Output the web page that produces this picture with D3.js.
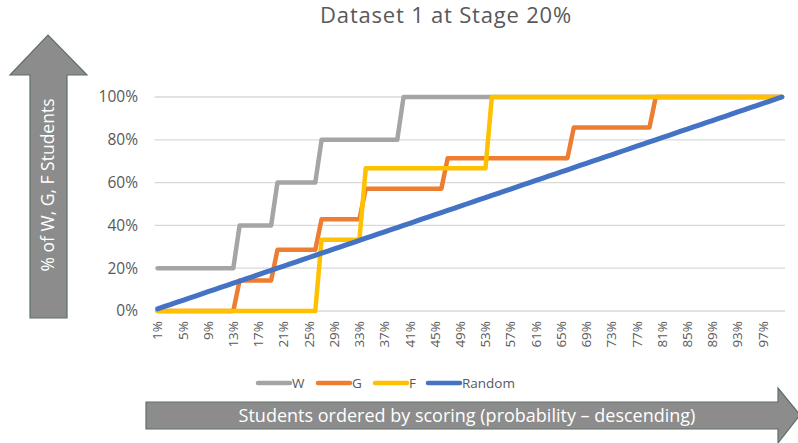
<!DOCTYPE html>
<html><head><meta charset="utf-8">
<script src="https://cdn.jsdelivr.net/npm/d3@7"></script>
<style>body{margin:0;background:#fff}svg{display:block;font-family:"Open Sans",Lato,sans-serif}</style>
</head><body><svg id="c" width="798" height="443"></svg>
<script>
const title = "Dataset 1 at Stage 20%";
const categories = ["1%","2%","3%","4%","5%","6%","7%","8%","9%","10%","11%","12%","13%","14%","15%","16%","17%","18%","19%","20%","21%","22%","23%","24%","25%","26%","27%","28%","29%","30%","31%","32%","33%","34%","35%","36%","37%","38%","39%","40%","41%","42%","43%","44%","45%","46%","47%","48%","49%","50%","51%","52%","53%","54%","55%","56%","57%","58%","59%","60%","61%","62%","63%","64%","65%","66%","67%","68%","69%","70%","71%","72%","73%","74%","75%","76%","77%","78%","79%","80%","81%","82%","83%","84%","85%","86%","87%","88%","89%","90%","91%","92%","93%","94%","95%","96%","97%","98%","99%","100%"];
const W = [20,20,20,20,20,20,20,20,20,20,20,20,20,40,40,40,40,40,40,60,60,60,60,60,60,60,80,80,80,80,80,80,80,80,80,80,80,80,80,100,
100,100,100,100,100,100,100,100,100,100,100,100,100,100,100,100,100,100,100,100,100,100,100,100,100,100,100,100,100,100,
100,100,100,100,100,100,100,100,100,100,100,100,100,100,100,100,100,100,100,100,100,100,100,100,100,100,100,100,100,100];
const G = [0,0,0,0,0,0,0,0,0,0,0,0,0,14.29,14.29,14.29,14.29,14.29,14.29,28.57,28.57,28.57,28.57,28.57,28.57,28.57,42.86,42.86,42.86,42.86,42.86,42.86,42.86,57.14,57.14,57.14,57.14,57.14,57.14,57.14,
57.14,57.14,57.14,57.14,57.14,57.14,71.43,71.43,71.43,71.43,71.43,71.43,71.43,71.43,71.43,71.43,71.43,71.43,71.43,71.43,71.43,71.43,71.43,71.43,71.43,71.43,85.71,85.71,85.71,85.71,
85.71,85.71,85.71,85.71,85.71,85.71,85.71,85.71,85.71,100,100,100,100,100,100,100,100,100,100,100,100,100,100,100,100,100,100,100,100,100];
const F = [0,0,0,0,0,0,0,0,0,0,0,0,0,0,0,0,0,0,0,0,0,0,0,0,0,0,33.33,33.33,33.33,33.33,33.33,33.33,33.33,66.67,66.67,66.67,66.67,66.67,66.67,66.67,
66.67,66.67,66.67,66.67,66.67,66.67,66.67,66.67,66.67,66.67,66.67,66.67,66.67,100,100,100,100,100,100,100,100,100,100,100,100,100,100,100,100,100,
100,100,100,100,100,100,100,100,100,100,100,100,100,100,100,100,100,100,100,100,100,100,100,100,100,100,100,100,100,100];
const Random = [1,2,3,4,5,6,7,8,9,10,11,12,13,14,15,16,17,18,19,20,21,22,23,24,25,26,27,28,29,30,31,32,33,34,35,36,37,38,39,40,
41,42,43,44,45,46,47,48,49,50,51,52,53,54,55,56,57,58,59,60,61,62,63,64,65,66,67,68,69,70,
71,72,73,74,75,76,77,78,79,80,81,82,83,84,85,86,87,88,89,90,91,92,93,94,95,96,97,98,99,100];
const seriesNames = ["W","G","F","Random"];
const seriesColors = ["#a5a5a5","#ed7d31","#ffc000","#4472c4"];
const yTicks = [0,20,40,60,80,100];
const xTickLabels = categories.filter((d,i)=>i%4===0);
const yAxisTitle = "% of W, G, F Students";
const xAxisTitle = "Students ordered by scoring (probability \u2013 descending)";

const svg = d3.select("#c");
const pLeft = 154.5, pRight = 785, pTop = 97, pBottom = 311;
const x = d3.scaleBand().domain(categories).range([pLeft, pRight]);
const y = d3.scaleLinear().domain([0,100]).range([pBottom, pTop]);
const cx = d => x(d) + x.bandwidth()/2;

// title
svg.append("text").attr("x", 446).attr("y", 23).attr("text-anchor","middle")
  .attr("font-size", 22).attr("letter-spacing", 0.8).attr("fill","#595959").text(title);

// gridlines
svg.append("g").selectAll("line").data(yTicks).join("line")
  .attr("x1", pLeft).attr("x2", pRight).attr("y1", d=>y(d)).attr("y2", d=>y(d))
  .attr("stroke","#d9d9d9").attr("stroke-width",1.3);

// y labels
svg.append("g").selectAll("text").data(yTicks).join("text")
  .attr("x", 138).attr("y", d=>y(d)).attr("dy","0.35em").attr("text-anchor","end")
  .attr("font-size", 15.5).attr("fill","#595959").text(d=>d+"%");

// x labels
svg.append("g").selectAll("text").data(xTickLabels).join("text")
  .attr("transform", d=>`translate(${cx(d)+4.7},${321}) rotate(-90)`)
  .attr("text-anchor","end").attr("font-size", 13.5).attr("fill","#595959").text(d=>d);

// lines
const allSeries = [W,G,F,Random];
const line = d3.line().x((d,i)=>cx(categories[i])).y(d=>y(d));
allSeries.forEach((s,k)=>{
  svg.append("path").datum(s).attr("d", line).attr("fill","none")
    .attr("stroke", seriesColors[k]).attr("stroke-width", k===3?5:4.5)
    .attr("stroke-linejoin","round").attr("stroke-linecap","round");
});

// legend
const legX = [258, 318, 375, 428];
const lg = svg.append("g");
seriesNames.forEach((n,k)=>{
  lg.append("line").attr("x1", legX[k]).attr("x2", legX[k]+32).attr("y1",383).attr("y2",383)
    .attr("stroke", seriesColors[k]).attr("stroke-width",4.5).attr("stroke-linecap","round");
  lg.append("text").attr("x", legX[k]+34).attr("y",383).attr("dy","0.35em")
    .attr("font-size",13.5).attr("fill","#595959").text(n);
});

// up arrow
svg.append("path")
  .attr("d","M30,318 L30,75 L10,75 L48,35 L87,75 L67,75 L67,318 Z")
  .attr("fill","#8c8c8c").attr("stroke","#5f7068").attr("stroke-width",1.2);
svg.append("text").attr("transform","translate(54,185) rotate(-90)").attr("text-anchor","middle")
  .attr("font-size",17.5).attr("fill","#fff").text(yAxisTitle);

// right arrow
svg.append("path")
  .attr("d","M146,402 L778,402 L778,388 L800,415 L778,443 L778,429 L146,429 Z")
  .attr("fill","#8c8c8c").attr("stroke","#5f7068").attr("stroke-width",1.2);
svg.append("text").attr("x",467).attr("y",416).attr("dy","0.35em").attr("text-anchor","middle")
  .attr("font-size",18).attr("fill","#fff").text(xAxisTitle);
</script></body></html>
